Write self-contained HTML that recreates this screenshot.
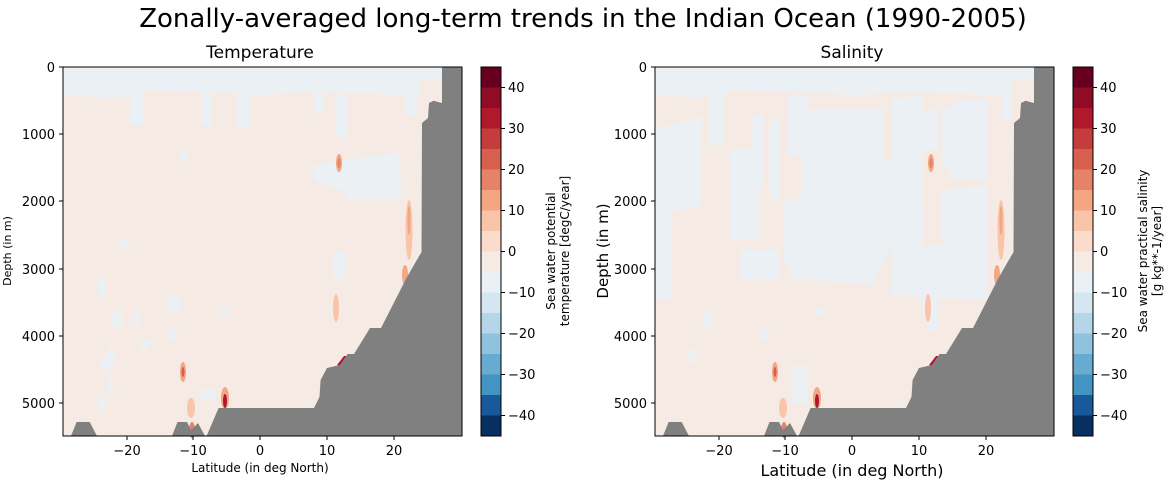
<!DOCTYPE html>
<html><head><meta charset="utf-8"><style>
html,body{margin:0;padding:0;background:#fff;}
svg{display:block;font-family:"DejaVu Sans","Liberation Sans",sans-serif;}
</style></head><body>
<svg width="1166" height="482" viewBox="0 0 1166 482" xmlns="http://www.w3.org/2000/svg">
<defs>
<g id="land">
<polygon fill="#808080" points="442,67 462,67 462,436 206.6,436 218.6,408 314,408 319.5,397 320.6,380 327,368 340,365 347.5,354 354,354 370,328 381,328 407,277 421.5,252 422,123 428,118 429,103 433.5,100.7 442,103"/>
<polygon fill="#808080" points="71,436 76.6,422 89.7,422 97,436"/>
<polygon fill="#808080" points="172,436 177.5,422 187,422 191,430 198,423 205,436"/>
</g>
<g id="spots">
<ellipse cx="339" cy="163" rx="3" ry="9" fill="#f4a582"/>
<ellipse cx="339" cy="163" rx="1.5" ry="5" fill="#e58267"/>
<ellipse cx="409" cy="230" rx="3.5" ry="30" fill="#f9c4a9"/>
<ellipse cx="409" cy="220" rx="1.5" ry="15" fill="#f4a582"/>
<ellipse cx="405" cy="275" rx="3" ry="10" fill="#f4a582"/>
<ellipse cx="336" cy="308" rx="3" ry="14" fill="#f9c4a9"/>
<ellipse cx="183" cy="372" rx="3" ry="10" fill="#f4a582"/>
<ellipse cx="183" cy="372" rx="1.5" ry="5" fill="#d6604d"/>
<ellipse cx="225" cy="398" rx="4" ry="11" fill="#f4a582"/>
<ellipse cx="225" cy="401" rx="2" ry="7" fill="#b2182b"/>
<ellipse cx="191" cy="408" rx="4" ry="10" fill="#f9c4a9"/>
<ellipse cx="192" cy="430" rx="3" ry="8" fill="#e58267"/>
<polygon points="337,365 344,356 349,356 342,368" fill="#b2182b"/>
</g>
</defs>

<text x="583" y="27" font-size="26" text-anchor="middle">Zonally-averaged long-term trends in the Indian Ocean (1990-2005)</text>

<!-- LEFT -->
<text x="260" y="58" font-size="17" text-anchor="middle">Temperature</text>
<rect x="63" y="67" width="399" height="369" fill="#f6ebe4"/>
<g fill="#eaf0f4">
<polygon points="63,67 442,67 442,78 420,80 420,95 410,95 300,92 260,96 240,93 200,92 143,90 120,98 63,95"/>
<rect x="130" y="85" width="13" height="40"/>
<rect x="201" y="85" width="10" height="40"/>
<rect x="237" y="85" width="12" height="42"/>
<rect x="314" y="92" width="10" height="22"/>
<rect x="336" y="95" width="11" height="42"/>
<rect x="405" y="95" width="12" height="20"/>
<polygon points="314,165 400,152 401,200 350,200 342,190 314,180"/>
<rect x="181" y="150" width="7" height="12"/>
<rect x="333" y="252" width="12" height="28"/>
<polygon points="124,237 131,245 124,250 118,243"/>
<polygon points="174,293 183,304 174,314 165,304"/>
<polygon points="117,310 125,320 117,330 110,320"/>
<polygon points="98,280 105,280 105,295 98,295"/>
<polygon points="111,345 116,355 108,372 99,364"/>
<polygon points="224,305 230,316 218,316"/>
<polygon points="136,305 142,320 136,330"/>
<polygon points="170,329 182,334 170,342"/>
<rect x="141" y="340" width="8" height="10"/>
<polygon points="110,375 114,385 110,395 105,385"/>
<polygon points="201,389 215,389 215,400 201,400"/>
<polygon points="98,398 105,398 105,410 98,410"/>
</g>
<use href="#spots"/>
<use href="#land"/>
<rect x="63" y="67" width="399" height="369" fill="none" stroke="#000" stroke-width="1"/>

<!-- RIGHT -->
<text x="852" y="58" font-size="17" text-anchor="middle">Salinity</text>
<g transform="translate(592,0)">
<rect x="63" y="67" width="399" height="369" fill="#f6ebe4"/>
<g fill="#eaf0f4">
<polygon points="63,67 442,67 442,78 420,80 420,95 410,95 300,92 260,96 240,93 200,92 143,90 120,98 63,95"/>
<polygon points="63,130 110,116 110,205 80,212 80,300 63,300"/>
<rect x="117" y="85" width="14" height="60"/>
<rect x="138" y="150" width="30" height="90"/>
<rect x="148" y="250" width="40" height="30"/>
<rect x="160" y="115" width="12" height="70"/>
<rect x="177" y="120" width="10" height="80"/>
<rect x="195" y="95" width="20" height="60"/>
<polygon points="209,110 292,110 292,160 300,160 300,245 280,285 200,278 192,260 192,200 209,200"/>
<polygon points="300,100 330,95 330,170 300,170"/>
<polygon points="300,165 330,165 332,260 300,260"/>
<polygon points="330,110 345,110 345,150 330,150"/>
<polygon points="350,110 370,100 395,100 395,180 360,180 350,160"/>
<polygon points="350,190 395,185 395,250 380,260 350,250"/>
<polygon points="300,250 395,240 395,280 395,300 380,300 300,295"/>
<polygon points="330,255 345,255 345,330 336,330 330,300"/>
<polygon points="410,95 420,95 420,120 410,120"/>
<rect x="200" y="365" width="15" height="38"/>
<polygon points="116,310 124,320 116,330 108,320"/>
<polygon points="170,329 182,334 170,342"/>
<polygon points="227,305 234,316 220,316"/>
<polygon points="97,350 104,350 104,362 97,362"/>
<polygon points="63,240 75,240 70,280 63,280"/>
</g>
<use href="#spots"/>
<use href="#land"/>
<rect x="63" y="67" width="399" height="369" fill="none" stroke="#000" stroke-width="1"/>
</g>

<!-- axis ticks/labels: left -->
<g font-size="13" fill="#000">
<g text-anchor="end">
<text x="55" y="72">0</text><text x="55" y="139">1000</text><text x="55" y="206">2000</text>
<text x="55" y="274">3000</text><text x="55" y="341">4000</text><text x="55" y="408">5000</text>
<text x="647" y="72">0</text><text x="647" y="139">1000</text><text x="647" y="206">2000</text>
<text x="647" y="274">3000</text><text x="647" y="341">4000</text><text x="647" y="408">5000</text>
</g>
<g stroke="#000">
<line x1="59" y1="67" x2="63" y2="67"/><line x1="59" y1="134" x2="63" y2="134"/><line x1="59" y1="201" x2="63" y2="201"/>
<line x1="59" y1="269" x2="63" y2="269"/><line x1="59" y1="336" x2="63" y2="336"/><line x1="59" y1="403" x2="63" y2="403"/>
<line x1="651" y1="67" x2="655" y2="67"/><line x1="651" y1="134" x2="655" y2="134"/><line x1="651" y1="201" x2="655" y2="201"/>
<line x1="651" y1="269" x2="655" y2="269"/><line x1="651" y1="336" x2="655" y2="336"/><line x1="651" y1="403" x2="655" y2="403"/>
<line x1="127" y1="436" x2="127" y2="440"/><line x1="193" y1="436" x2="193" y2="440"/><line x1="260" y1="436" x2="260" y2="440"/>
<line x1="327" y1="436" x2="327" y2="440"/><line x1="394" y1="436" x2="394" y2="440"/>
<line x1="719" y1="436" x2="719" y2="440"/><line x1="785" y1="436" x2="785" y2="440"/><line x1="852" y1="436" x2="852" y2="440"/>
<line x1="919" y1="436" x2="919" y2="440"/><line x1="986" y1="436" x2="986" y2="440"/>
</g>
<g text-anchor="middle">
<text x="127" y="455">−20</text><text x="193" y="455">−10</text><text x="260" y="455">0</text><text x="327" y="455">10</text><text x="394" y="455">20</text>
<text x="719" y="455">−20</text><text x="785" y="455">−10</text><text x="852" y="455">0</text><text x="919" y="455">10</text><text x="986" y="455">20</text>
</g>
</g>
<text x="260" y="472" font-size="12" text-anchor="middle">Latitude (in deg North)</text>
<text x="852" y="476" font-size="16" text-anchor="middle">Latitude (in deg North)</text>
<text transform="translate(11,251) rotate(-90)" font-size="11" text-anchor="middle">Depth (in m)</text>
<text transform="translate(608,251) rotate(-90)" font-size="15" text-anchor="middle">Depth (in m)</text>

<!-- colorbars -->
<g id="cb">
<rect x="481" y="67" width="20" height="20.5" fill="#67001f"/>
<rect x="481" y="87.5" width="20" height="20.5" fill="#8e0c25"/>
<rect x="481" y="108" width="20" height="20.5" fill="#b2182b"/>
<rect x="481" y="128.5" width="20" height="20.5" fill="#c43c3c"/>
<rect x="481" y="149" width="20" height="20.5" fill="#d6604d"/>
<rect x="481" y="169.5" width="20" height="20.5" fill="#e58267"/>
<rect x="481" y="190" width="20" height="20.5" fill="#f4a582"/>
<rect x="481" y="210.5" width="20" height="20.5" fill="#f9c4a9"/>
<rect x="481" y="231" width="20" height="20.5" fill="#fbdccb"/>
<rect x="481" y="251.5" width="20" height="20.5" fill="#f6ebe4"/>
<rect x="481" y="272" width="20" height="20.5" fill="#eaf0f4"/>
<rect x="481" y="292.5" width="20" height="20.5" fill="#d4e6f0"/>
<rect x="481" y="313" width="20" height="20.5" fill="#b5d6e8"/>
<rect x="481" y="333.5" width="20" height="20.5" fill="#8fc2dd"/>
<rect x="481" y="354" width="20" height="20.5" fill="#68abd0"/>
<rect x="481" y="374.5" width="20" height="20.5" fill="#4393c3"/>
<rect x="481" y="395" width="20" height="20.5" fill="#2f79b5"/>
<rect x="481" y="415.5" width="20" height="20.5" fill="#1a5a9c"/>
<rect x="481" y="415.5" width="20" height="20.5" fill="#144a87" opacity="0"/>
<rect x="481" y="67" width="20" height="369" fill="none" stroke="#000" stroke-width="1"/>
<g stroke="#000">
<line x1="501" y1="87.5" x2="505" y2="87.5"/><line x1="501" y1="128.5" x2="505" y2="128.5"/><line x1="501" y1="169.5" x2="505" y2="169.5"/>
<line x1="501" y1="210.5" x2="505" y2="210.5"/><line x1="501" y1="251.5" x2="505" y2="251.5"/><line x1="501" y1="292.5" x2="505" y2="292.5"/>
<line x1="501" y1="333.5" x2="505" y2="333.5"/><line x1="501" y1="374.5" x2="505" y2="374.5"/><line x1="501" y1="415.5" x2="505" y2="415.5"/>
</g>
<g font-size="13">
<text x="508" y="92">40</text><text x="508" y="133">30</text><text x="508" y="174">20</text><text x="508" y="215">10</text>
<text x="508" y="256">0</text><text x="508" y="297">−10</text><text x="508" y="338">−20</text><text x="508" y="379">−30</text><text x="508" y="420">−40</text>
</g>
</g>
<rect x="481" y="415.5" width="20" height="20" fill="#053061"/>
<rect x="481" y="395" width="20" height="20.5" fill="#18599b"/>
<rect x="481" y="67" width="20" height="369" fill="none" stroke="#000"/>
<g transform="translate(592,0)">
<use href="#cb"/>
<rect x="481" y="415.5" width="20" height="20" fill="#053061"/>
<rect x="481" y="395" width="20" height="20.5" fill="#18599b"/>
<rect x="481" y="67" width="20" height="369" fill="none" stroke="#000"/>
</g>
<text transform="translate(555,251) rotate(-90)" font-size="12" text-anchor="middle">Sea water potential</text>
<text transform="translate(569,251) rotate(-90)" font-size="12" text-anchor="middle">temperature [degC/year]</text>
<text transform="translate(1147,251) rotate(-90)" font-size="12" text-anchor="middle">Sea water practical salinity</text>
<text transform="translate(1161,251) rotate(-90)" font-size="12" text-anchor="middle">[g kg**-1/year]</text>
</svg>
</body></html>
